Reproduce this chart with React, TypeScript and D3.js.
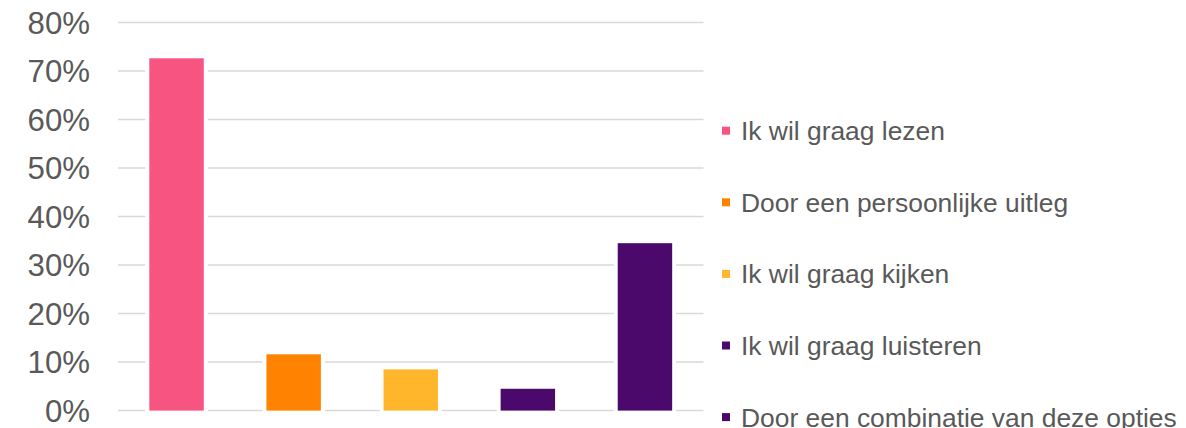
import React from "react";
import * as d3 from "d3";

const categories = [
  "Ik wil graag lezen",
  "Door een persoonlijke uitleg",
  "Ik wil graag kijken",
  "Ik wil graag luisteren",
  "Door een combinatie van deze opties",
];
const values = [0.726, 0.116, 0.085, 0.045, 0.345];
const colors = ["#F75482", "#FF8200", "#FFB62A", "#4B0A6B", "#4B0A6B"];
const yTicks = [0, 0.1, 0.2, 0.3, 0.4, 0.5, 0.6, 0.7, 0.8];

const W = 1186;
const H = 428;
const FONT = "'Liberation Sans', Arial, sans-serif";

export default function App() {
  const x = d3
    .scaleBand<string>()
    .domain(categories)
    .range([118, 703.5])
    .paddingInner(0.535)
    .paddingOuter(0.2675);
  const y = d3.scaleLinear().domain([0, 0.8]).range([410.6, 22.4]);
  const fmt = d3.format(".0%");

  const legendX = 722;
  const legendY0 = 130.7;
  const legendStep = 71.6;
  const legendFont = 26.4;
  const axisFont = 31.2;

  return (
    <svg
      width={W}
      height={H}
      style={{ position: "absolute", left: 0, top: 0, background: "#fff" }}
    >
      <rect x={0} y={0} width={W} height={H} fill="#fff" />
      {yTicks.map((t) => (
        <g key={t}>
          <line
            x1={118}
            x2={703.5}
            y1={y(t)}
            y2={y(t)}
            stroke="#D9D9D9"
            strokeWidth={1.5}
          />
          <text
            x={90}
            y={y(t) + axisFont * 0.358}
            textAnchor="end"
            fontFamily={FONT}
            fontSize={axisFont}
            fill="#595959"
          >
            {fmt(t)}
          </text>
        </g>
      ))}
      {categories.map((c, i) => (
        <rect
          key={c}
          x={x(c)}
          y={y(values[i])}
          width={x.bandwidth()}
          height={y(0) - y(values[i])}
          fill={colors[i]}
          stroke="#fff"
          strokeWidth={8}
          style={{ paintOrder: "stroke" }}
        />
      ))}
      {categories.map((c, i) => {
        const cy = legendY0 + i * legendStep;
        return (
          <g key={"lg" + c}>
            <rect x={legendX} y={cy - 4} width={8} height={8} fill={colors[i]} />
            <text
              x={741}
              y={cy + legendFont * 0.358}
              fontFamily={FONT}
              fontSize={legendFont}
              fill="#595959"
            >
              {c}
            </text>
          </g>
        );
      })}
    </svg>
  );
}
